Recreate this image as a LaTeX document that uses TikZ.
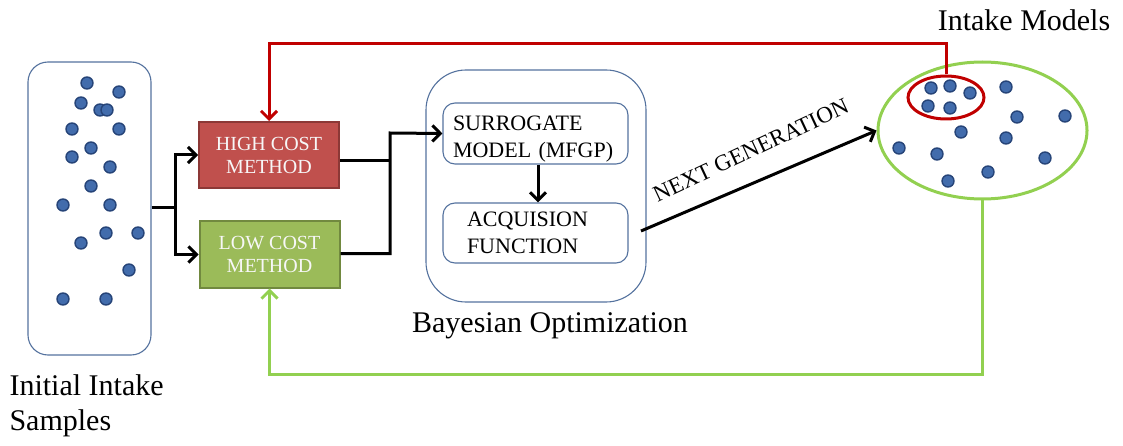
\documentclass[tikz,border=0pt]{standalone}
\usepackage{fontspec}
\setmainfont{Liberation Serif}
\newfontfamily\timesfont{Liberation Serif}
\usetikzlibrary{arrows.meta,shapes.geometric}
\definecolor{FrameBlue}{RGB}{84,114,158}
\definecolor{HighFill}{RGB}{192,80,77}
\definecolor{HighEdge}{RGB}{140,56,54}
\definecolor{LowFill}{RGB}{155,187,89}
\definecolor{LowEdge}{RGB}{113,137,63}
\definecolor{LoopRed}{RGB}{192,0,0}
\definecolor{LoopGreen}{RGB}{146,208,80}
\definecolor{DotFill}{RGB}{66,108,172}
\definecolor{DotEdge}{RGB}{38,68,120}

\begin{document}
\begin{tikzpicture}[x=1pt,y=-1pt,
    frame/.style={draw=FrameBlue, line width=1.1pt, rounded corners=#1, inner sep=0pt},
    method/.style={draw=#1Edge, fill=#1Fill, line width=2pt, minimum width=140pt, minimum height=66pt,
                   align=center, text=white!94!gray, font=\timesfont\fontsize{20}{23}\selectfont},
    bostep/.style={draw=FrameBlue, line width=1.1pt, rounded corners=12pt, minimum width=185pt,
                   inner ysep=0pt, align=left, font=\timesfont\fontsize{22}{27}\selectfont},
    flow/.style={line width=3pt, -{Straight Barb[length=8pt,width=16pt]}},
    label/.style={font=\timesfont\fontsize{30}{35}\selectfont},
    dot/.style={fill=DotFill, draw=DotEdge, line width=1.4pt}]
    \useasboundingbox (0,0) rectangle (1123,446);

%   samples column
    \node[frame=20pt, minimum width=123pt, minimum height=293pt] (samples) at (89.5,208.5) {};
    \foreach \x/\y in {87/83,119/92,81/103,100/110,107/110,72/129,119/129,91/148,72/157,110/167,
                       91/186,63/205,110/205,106/233,138/233,81/243,129/270,63/299,106/299} {
        \filldraw[dot] (\x,\y) circle (6pt);
    }
    \node[label, anchor=north west, align=left] (samplestext) at (6,371) {Initial Intake\\Samples};

%   two fidelities
    \node[method=High] (high) at (269,155) {HIGH COST\\METHOD};
    \node[method=Low] (low) at (269.5,254.5) {LOW COST\\METHOD};

%   bayesian optimization loop
    \node[frame=40pt, minimum width=220pt, minimum height=232pt] (bayes) at (536,186) {};
    \node[bostep, text width=165pt, text height=28pt, text depth=33pt] (surr) at (535.5,133.5) {SURROGATE\\MODEL (MFGP)};
    \node[bostep, text width=137pt, text height=24pt, text depth=36pt] (acq) at (535.5,233) {ACQUISION\\FUNCTION};
    \node[label] (bayestext) at (550,326) {Bayesian Optimization};

%   new designs
    \node[ellipse, draw=LoopGreen, line width=3pt, minimum width=209pt, minimum height=137pt,
          inner sep=0pt] (models) at (982.5,130.5) {};
    \node[ellipse, draw=LoopRed, line width=3pt, minimum width=76pt, minimum height=43pt,
          inner sep=0pt] (best) at (946,97.5) {};
    \foreach \x/\y in {931/88,950/86,970/93,928/106,950/108,1006/87,1017/117,1065/116,961/132,
                       1006/138,899/148,937/154,1045/158,988/172,948/181} {
        \filldraw[dot] (\x,\y) circle (6pt);
    }
    \node[label] (modelstext) at (1024,20) {Intake Models};

%   arrows
    \coordinate (split) at (175,208);
    \coordinate (join) at (390,133);
    \coordinate (ngstart) at (641,231);
    \draw[line width=3pt] (samples.east |- split) -- (split);
    \draw[flow] (split) |- (high.west);
    \draw[flow] (split) |- (low.west);
    \draw[line width=3pt] ([yshift=-6pt]high.east) -- ([yshift=-6pt]high.east -| join);
    \draw[flow] ([yshift=1pt]low.east) -| (join) -- (surr.west);
    \draw[flow] ([xshift=2.5pt]surr.south) -- ([xshift=2.5pt]acq.north);
    \draw[flow] (ngstart) -- (models.west)
        node[sloped, pos=0.52, above=20pt, rotate=2, inner sep=2pt, font=\timesfont\fontsize{23}{27}\selectfont] (ngtext) {NEXT GENERATION};

%   feedback
    \draw[LoopRed, line width=3pt, -{Straight Barb[length=8pt,width=16pt]}] (best.north) -- ++(0,-31) -| (high.north);
    \draw[LoopGreen, line width=3pt, -{Straight Barb[length=8pt,width=16pt]}] (models.south) -- ++(0,174) -| (low.south);
\end{tikzpicture}
\end{document}
